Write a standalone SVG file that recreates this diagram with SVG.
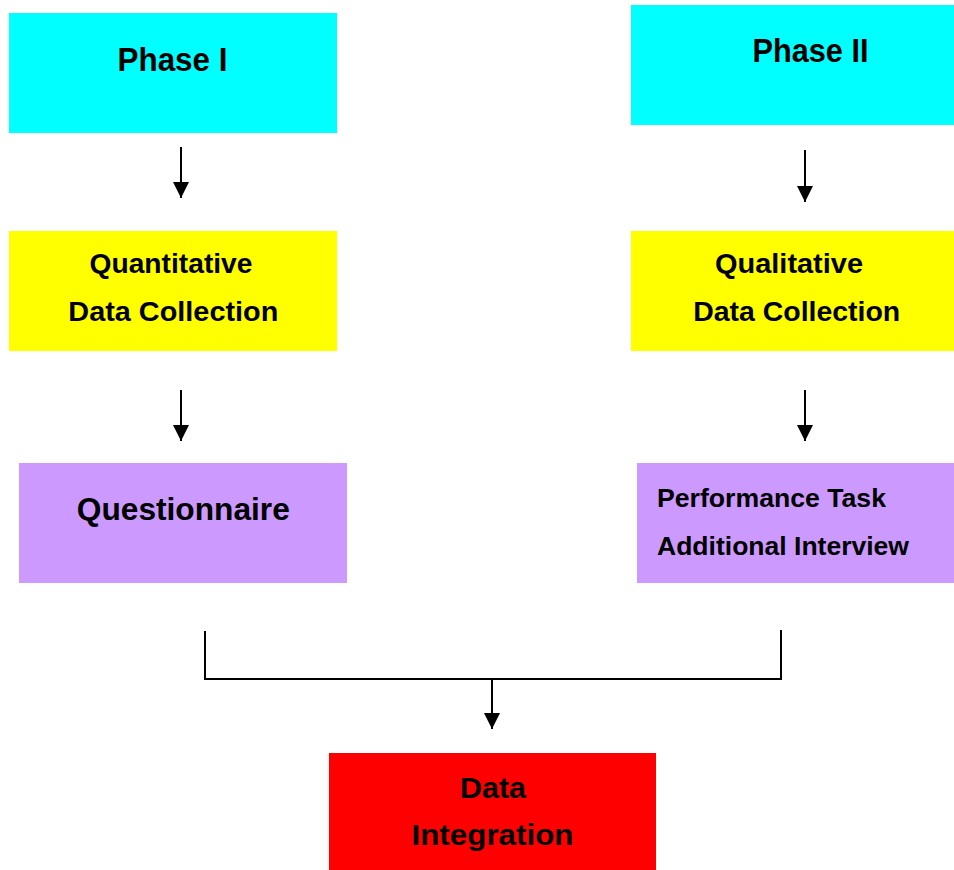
<svg xmlns="http://www.w3.org/2000/svg" width="954" height="870" viewBox="0 0 954 870">
<defs>
<marker id="ah" viewBox="0 0 16 16" refX="16" refY="8" markerWidth="16" markerHeight="16" markerUnits="userSpaceOnUse" orient="auto">
<path d="M0,0 L16,8 L0,16 Z" fill="#000"/>
</marker>
<style>
.t{font-family:"Liberation Sans",Arial,sans-serif;font-weight:bold;fill:#000;text-anchor:middle}
.l{text-anchor:start}
.c{stroke:#000;stroke-width:2;fill:none}
</style>
</defs>
<rect width="954" height="870" fill="#fff"/>
<g id="phase1">
<rect x="9" y="13" width="328" height="120" fill="#00FFFF"/>
<text class="t" x="172.5" y="71" font-size="33" textLength="110" lengthAdjust="spacingAndGlyphs">Phase I</text>
</g>
<g id="phase2">
<rect x="631" y="5" width="323" height="120" fill="#00FFFF"/>
<text class="t" x="810.5" y="62" font-size="33" textLength="116" lengthAdjust="spacingAndGlyphs">Phase II</text>
</g>
<g id="quant">
<rect x="9" y="231" width="328" height="120" fill="#FFFF00"/>
<text class="t" x="171" y="273" font-size="27.5" textLength="163" lengthAdjust="spacingAndGlyphs">Quantitative</text>
<text class="t" x="173.3" y="321" font-size="27.5" textLength="210" lengthAdjust="spacingAndGlyphs">Data Collection</text>
</g>
<g id="qual">
<rect x="631" y="231" width="323" height="120" fill="#FFFF00"/>
<text class="t" x="789" y="273" font-size="27.5" textLength="148" lengthAdjust="spacingAndGlyphs">Qualitative</text>
<text class="t" x="796.7" y="321" font-size="27.5" textLength="207" lengthAdjust="spacingAndGlyphs">Data Collection</text>
</g>
<g id="questionnaire">
<rect x="19" y="463" width="328" height="120" fill="#CC99FF"/>
<text class="t" x="183.3" y="520" font-size="30.5" textLength="213" lengthAdjust="spacingAndGlyphs">Questionnaire</text>
</g>
<g id="performance">
<rect x="637" y="463" width="317" height="120" fill="#CC99FF"/>
<text class="t l" x="657" y="507" font-size="25" textLength="229" lengthAdjust="spacingAndGlyphs">Performance Task</text>
<text class="t l" x="657" y="555" font-size="25" textLength="252" lengthAdjust="spacingAndGlyphs">Additional Interview</text>
</g>
<g id="integration">
<rect x="329" y="753" width="327" height="117" fill="#FF0000"/>
<text class="t" x="493" y="798" font-size="30" textLength="66" lengthAdjust="spacingAndGlyphs">Data</text>
<text class="t" x="492.5" y="845" font-size="30" textLength="162" lengthAdjust="spacingAndGlyphs">Integration</text>
</g>
<g id="connectors">
<line class="c" x1="181" y1="147" x2="181" y2="198" marker-end="url(#ah)"/>
<line class="c" x1="805" y1="150" x2="805" y2="202" marker-end="url(#ah)"/>
<line class="c" x1="181" y1="390" x2="181" y2="441" marker-end="url(#ah)"/>
<line class="c" x1="805" y1="390" x2="805" y2="441" marker-end="url(#ah)"/>
<polyline class="c" points="205,631 205,679 781,679 781,630"/>
<line class="c" x1="492" y1="679" x2="492" y2="729" marker-end="url(#ah)"/>
</g>
</svg>
